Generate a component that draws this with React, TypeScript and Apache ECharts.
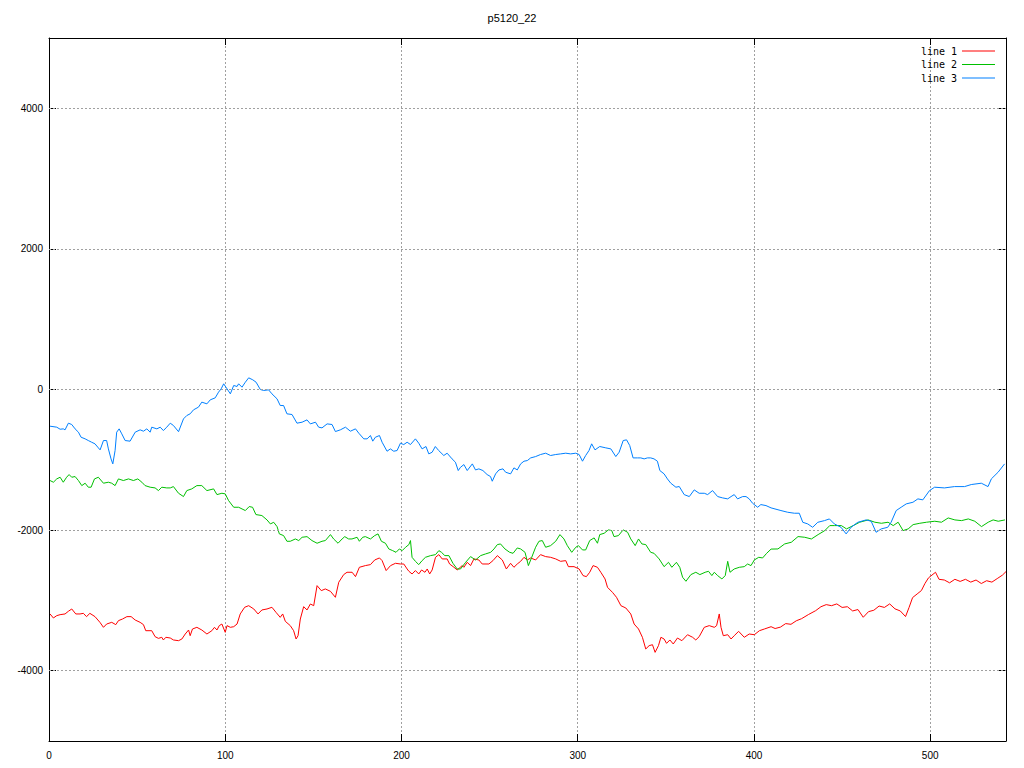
import React, { useEffect, useRef } from "react";
import * as echarts from "echarts";

const chartTitle = "p5120_22";
const seriesNames = ["line 1", "line 2", "line 3"];
const seriesColors = ["#ff0000", "#00c000", "#0080ff"];
const yTickValues = [-4000, -2000, 0, 2000, 4000];
const xMin = 0;
const xMax = 543;
const xStep = 100;
const yMin = -5000;
const yMax = 5000;

// line 1 (red)
const line1: [number, number][] = [
  [0.6, -3193], [2.5, -3250], [4.4, -3217], [6.3, -3203], [9.1, -3193], [11, -3155], [12.9, -3122],
  [15.2, -3193], [17.6, -3193], [19.5, -3184], [21.3, -3231], [23.2, -3184], [26.1, -3231], [28.9, -3312],
  [30.9, -3383], [32.7, -3336], [35.6, -3312], [37.9, -3345], [39.4, -3288], [41.7, -3265], [44.2, -3231],
  [46.6, -3231], [48.9, -3279], [51.7, -3312], [53.6, -3345], [54.9, -3431], [58.3, -3431], [60.2, -3516],
  [62.1, -3540], [64, -3525], [64.9, -3563], [66.3, -3525], [68.8, -3535], [70.6, -3563], [73.5, -3573],
  [75.4, -3549], [77.3, -3478], [79.2, -3421], [80.1, -3502], [81.4, -3407], [83.9, -3383], [86.7, -3421],
  [89.6, -3478], [92.4, -3431], [93.9, -3383], [95.3, -3421], [96.6, -3359], [98.1, -3336], [100, -3454],
  [101, -3359], [102.9, -3383], [104.8, -3374], [106.7, -3336], [108.5, -3193], [111, -3098], [113.3, -3075],
  [116.2, -3122], [118.6, -3193], [120.8, -3136], [123.7, -3122], [126.5, -3098], [128.8, -3170],
  [131.2, -3241], [132.6, -3193], [134.1, -3298], [136.9, -3359], [138.8, -3431], [140.2, -3549],
  [141.3, -3502], [142.6, -3265], [144.5, -3089], [146.4, -3136], [148.3, -3051], [150.2, -3075],
  [152.1, -2790], [154.5, -2861], [156.8, -2837], [159.7, -2871], [162.5, -2956], [164.4, -2742],
  [167.2, -2633], [169.1, -2600], [172, -2600], [173.9, -2662], [176.1, -2529], [179.5, -2505],
  [182.4, -2491], [184.8, -2425], [187.5, -2396], [189, -2434], [191.3, -2576], [193.8, -2505],
  [196.6, -2472], [199.4, -2482], [201.3, -2482], [203.2, -2553], [204.2, -2586], [206, -2624],
  [207.9, -2576], [209.8, -2624], [211.4, -2567], [213.3, -2600], [214.6, -2553], [216, -2624],
  [217.4, -2567], [219.3, -2387], [221.2, -2349], [223.1, -2410], [225.9, -2410], [227.3, -2482],
  [229.8, -2529], [231.6, -2567], [234.5, -2505], [235.4, -2529], [237.3, -2458], [239.2, -2505],
  [241.1, -2410], [243.9, -2425], [245.8, -2482], [249.6, -2482], [251.9, -2434], [254.4, -2363],
  [257.2, -2425], [259.5, -2553], [261.9, -2472], [263.8, -2529], [265.7, -2482], [267.6, -2444],
  [269.5, -2387], [271.4, -2425], [273.3, -2396], [276.1, -2425], [278.9, -2349], [281.8, -2377],
  [284.6, -2387], [287.5, -2410], [290.3, -2444], [293.2, -2434], [294.7, -2520], [297.9, -2520],
  [300.8, -2553], [303, -2647], [304.9, -2662], [306.8, -2600], [308.7, -2505], [311.2, -2529],
  [313.1, -2600], [315.5, -2695], [316.9, -2814], [319.7, -2885], [322, -2956], [324.5, -3075],
  [327.3, -3108], [330.1, -3193], [332, -3336], [334.5, -3407], [336.7, -3525], [338.6, -3691],
  [340.5, -3644], [342.4, -3630], [343.9, -3739], [345.8, -3644], [347.2, -3525], [349, -3549],
  [350.4, -3611], [352.3, -3563], [354.2, -3620], [356.6, -3535], [359.1, -3573], [362.3, -3488],
  [365.2, -3525], [367, -3563], [368.9, -3516], [371.8, -3383], [374.6, -3359], [377.5, -3383],
  [378.8, -3359], [380.3, -3193], [381.3, -3383], [382.6, -3502], [385.1, -3488], [387, -3549],
  [388.8, -3502], [391.3, -3440], [394.5, -3525], [397.3, -3478], [400.2, -3488], [403.1, -3431],
  [405.9, -3407], [409.7, -3374], [412, -3400], [415, -3380], [418, -3330], [421, -3340], [424, -3290],
  [427, -3260], [431, -3200], [435, -3146], [438, -3090], [441, -3060], [444, -3075], [447, -3050],
  [450, -3100], [453, -3090], [456, -3150], [459, -3130], [462, -3240], [465, -3160], [468, -3140],
  [471, -3080], [474, -3100], [477, -3050], [480, -3120], [483, -3150], [486, -3230], [488, -3100],
  [490, -2960], [493, -2900], [495, -2860], [497, -2760], [499, -2680], [501, -2640], [503, -2600],
  [505, -2700], [508, -2710], [511, -2750], [514, -2700], [517, -2730], [520, -2700], [523, -2740],
  [526, -2710], [529, -2760], [532, -2720], [535, -2740], [538, -2690], [541, -2640], [543, -2590],
];

// line 2 (green)
const line2: [number, number][] = [
  [0.6, -1295], [2.5, -1319], [4.4, -1272], [6.3, -1248], [8.1, -1319], [10, -1248], [11.4, -1210],
  [12.9, -1248], [14.8, -1238], [16.7, -1295], [18.6, -1367], [20.5, -1333], [22.3, -1390], [23.9, -1390],
  [25.8, -1272], [28, -1248], [30.9, -1333], [33.7, -1319], [35.6, -1333], [37.5, -1367], [39.4, -1272],
  [42.2, -1295], [45.1, -1272], [47.9, -1295], [50.4, -1272], [52.7, -1319], [54.5, -1367], [57.4, -1390],
  [60.2, -1400], [62.1, -1438], [64, -1390], [66.8, -1400], [68.8, -1400], [70.6, -1381], [73.5, -1476],
  [76.3, -1523], [78.2, -1438], [81, -1414], [83.9, -1367], [86.7, -1367], [89.6, -1438], [93.4, -1414],
  [95.3, -1495], [98.1, -1476], [100, -1485], [101.9, -1580], [104.8, -1675], [107.6, -1675],
  [111.4, -1722], [113.6, -1665], [115.5, -1675], [117.4, -1779], [120.8, -1793], [123.7, -1855],
  [125.6, -1912], [127.5, -1889], [129.4, -1950], [130.7, -2054], [133.1, -2078], [135, -2159],
  [136.9, -2159], [139.8, -2126], [141.7, -2149], [143.6, -2102], [146.4, -2093], [149.2, -2149],
  [152.1, -2187], [154.9, -2159], [156.8, -2149], [159.7, -2064], [161.5, -2126], [164, -2187],
  [166.3, -2126], [167.8, -2093], [170, -2126], [171.9, -2126], [174.8, -2102], [176.1, -2159],
  [178, -2102], [179.5, -2093], [182.4, -2126], [184.8, -2078], [186.7, -2054], [188.6, -2159],
  [190.9, -2187], [192.8, -2268], [195, -2292], [196.9, -2316], [198.8, -2268], [200.4, -2292],
  [202.3, -2244], [204.2, -2206], [205.1, -2149], [206, -2387], [207.9, -2444], [209.8, -2491],
  [211.7, -2434], [213.6, -2387], [216.5, -2363], [219.3, -2349], [221.2, -2292], [222.7, -2316],
  [224.6, -2363], [226.9, -2363], [229.2, -2472], [231.6, -2553], [233.5, -2553], [236.4, -2458],
  [239.2, -2377], [242, -2425], [244.9, -2363], [247.7, -2339], [250.6, -2316], [252.5, -2268],
  [254.4, -2206], [256.2, -2197], [258.7, -2268], [261.4, -2316], [263.3, -2330], [265.7, -2254],
  [267.6, -2268], [270.1, -2316], [272, -2505], [273.9, -2387], [276.1, -2244], [278, -2159],
  [279.9, -2149], [281.8, -2244], [284.6, -2221], [287.5, -2159], [289.9, -2064], [292.2, -2126],
  [294.1, -2221], [296.6, -2316], [298.9, -2244], [300.4, -2221], [302.7, -2282], [304.5, -2282],
  [306.8, -2149], [309.3, -2111], [311.2, -2187], [312.5, -2064], [315, -2045], [317.4, -1997],
  [319.3, -2007], [320.6, -2093], [323.1, -2078], [325.8, -1997], [328.3, -2031], [330.1, -2126],
  [332.6, -2221], [334.5, -2126], [336.4, -2197], [338.6, -2206], [341.4, -2316], [343.3, -2330],
  [346.2, -2410], [349, -2520], [351.5, -2458], [353.4, -2529], [356, -2458], [357.9, -2529],
  [359.5, -2671], [361.4, -2728], [364.2, -2633], [367, -2600], [369.3, -2633], [372.3, -2600],
  [374.2, -2586], [376.1, -2647], [377.5, -2600], [379.4, -2647], [381.8, -2695], [383.7, -2647],
  [385.1, -2444], [386.4, -2600], [388.8, -2553], [391.7, -2529], [394.5, -2520], [396.4, -2482],
  [398.3, -2505], [400.2, -2425], [402.7, -2387], [404.9, -2396], [407.2, -2330], [409.7, -2270],
  [413.6, -2268], [417.4, -2197], [421.2, -2173], [425, -2092], [428.8, -2102], [432.6, -2126],
  [436.4, -2064], [440.2, -2007], [443, -1936], [445.8, -1936], [449.6, -1936], [452.5, -1983],
  [456.3, -1936], [460, -1888], [464.8, -1855], [468.6, -1888], [472.3, -1903], [476.1, -1888],
  [479, -1936], [481.8, -1888], [484.6, -2007], [487.5, -1983], [490.3, -1922], [494.1, -1903],
  [497.9, -1888], [502.6, -1874], [506.4, -1888], [510.2, -1827], [514, -1855], [517.8, -1865],
  [521.6, -1841], [525.3, -1874], [529.1, -1950], [532.9, -1888], [535.7, -1855], [538.6, -1874],
  [542.4, -1855],
];

// line 3 (blue)
const line3: [number, number][] = [
  [0.6, -522], [4.4, -536], [6.3, -565], [8.1, -560], [9.1, -574], [11, -479], [12.9, -498], [14.8, -560],
  [16.7, -607], [18.2, -679], [20.5, -702], [22.3, -726], [24.2, -750], [26.1, -773], [28, -830],
  [29, -859], [30.9, -726], [32.7, -726], [33.7, -845], [35.2, -987], [36.2, -1058], [37.5, -868],
  [38.4, -607], [39.8, -560], [41.3, -631], [43.2, -726], [46, -735], [48.9, -607], [51.7, -574],
  [53.6, -593], [55.5, -560], [57.4, -607], [58.3, -536], [61.2, -560], [63.1, -536], [64.9, -584],
  [66.8, -536], [68.8, -479], [70.6, -512], [73.5, -600], [76.3, -418], [78.2, -370], [80.1, -346],
  [82, -289], [84.8, -251], [86.7, -180], [89.6, -204], [91.5, -147], [94.3, -119], [96.2, -38],
  [97.7, 10], [99.1, 81], [101, 10], [102.9, -62], [104.8, 57], [106.7, 43], [107.6, 81], [109.5, 33],
  [111.4, 104], [113.3, 166], [115.6, 138], [117.5, 104], [119.9, 0], [121.8, -14], [124.6, -5],
  [126.5, -62], [129.4, -133], [131.2, -228], [133.1, -228], [135, -346], [137.9, -356], [140.7, -479],
  [143.6, -465], [146.4, -432], [148.3, -489], [151.2, -465], [153, -536], [154.9, -546], [157.8, -489],
  [160.6, -498], [162.5, -598], [165.3, -574], [168.2, -536], [171, -593], [173.9, -560], [175.8, -622],
  [178.6, -702], [180.5, -702], [182.4, -655], [183.7, -735], [185.2, -679], [187.5, -655], [189, -750],
  [191.8, -878], [193.7, -845], [195.6, -878], [197.5, -868], [199.4, -764], [201.3, -783], [203.2, -750],
  [205.1, -783], [207.9, -702], [209.8, -764], [211.7, -845], [213.9, -811], [215.5, -916], [217.4, -892],
  [219.2, -811], [221.1, -868], [224, -939], [225.9, -906], [228.7, -987], [230.6, -1034], [232.2, -1153],
  [233.5, -1106], [235.4, -1068], [237.3, -1153], [240.2, -1058], [242, -1144], [243.9, -1129],
  [246.2, -1153], [248.6, -1210], [250.5, -1238], [251.5, -1305], [253.4, -1200], [255.3, -1144],
  [257.6, -1129], [259.1, -1177], [261.9, -1200], [263.8, -1115], [265.7, -1144], [267.6, -1058],
  [269.5, -1020], [271.4, -1011], [273.3, -973], [276.1, -954], [278.9, -925], [281.8, -906],
  [284.6, -939], [287.5, -925], [290.3, -916], [293.2, -906], [296, -916], [298.9, -906], [300.8, -925],
  [302.7, -1020], [304.5, -939], [306.4, -868], [307.9, -773], [309.8, -859], [312.5, -811],
  [315.9, -830], [318.8, -845], [321.6, -954], [323.5, -892], [325.8, -726], [327.7, -716],
  [329.5, -797], [331.4, -973], [333.9, -973], [335.8, -973], [337.7, -987], [339.5, -973],
  [341.4, -973], [343.3, -987], [345.2, -1020], [346.6, -1153], [349, -1200], [350.9, -1272],
  [352.8, -1333], [355.7, -1390], [357.6, -1380], [360.4, -1495], [363.3, -1523], [366.1, -1428],
  [368.9, -1476], [371.8, -1476], [373.7, -1495], [376.5, -1438], [379.4, -1523], [382.2, -1542],
  [385.1, -1556], [387, -1523], [388.8, -1495], [390.7, -1556], [393.6, -1523], [395.5, -1523],
  [397.3, -1556], [399.2, -1618], [402.1, -1675], [403.9, -1637], [406.8, -1651], [409.7, -1684],
  [415.3, -1722], [419.1, -1746], [422.9, -1760], [425.7, -1760], [427.7, -1889], [430.5, -1912],
  [433.3, -1960], [436.2, -1889], [440, -1865], [442.8, -1841], [445.6, -1912], [449.4, -1960],
  [452.3, -2054], [455.1, -1960], [458.9, -1889], [463.6, -1855], [466.5, -1874], [469.3, -2031],
  [472.2, -1983], [475.9, -1960], [477.8, -1889], [480.7, -1722], [483.5, -1675], [486.4, -1627],
  [490.2, -1604], [493, -1556], [495.8, -1570], [499.6, -1438], [502.5, -1390], [508.1, -1400],
  [513.8, -1381], [519.5, -1381], [523.3, -1352], [529, -1333], [532.8, -1381], [534.7, -1271],
  [538.5, -1177], [542.2, -1058],
];

const seriesData = [line1, line2, line3];

const labelFont = "'Liberation Sans', Arial, sans-serif";
const legendFont = "'DejaVu Sans Mono', monospace";

export default function App() {
  const ref = useRef<HTMLDivElement>(null);

  useEffect(() => {
    if (!ref.current) return;
    const chart = echarts.init(ref.current, null, { renderer: "svg" });
    const gridLineStyle = { color: "#a0a0a0", width: 1, type: [2, 2] as number[] };
    const axisLineStyle = { color: "#000", width: 1 };

    const axisBase = {
      type: "value" as const,
      axisLine: { show: true, onZero: false, lineStyle: axisLineStyle },
      axisTick: { show: true, inside: true, length: 7, lineStyle: axisLineStyle },
    };

    chart.setOption({
      animation: false,
      backgroundColor: "#ffffff",
      title: {
        text: chartTitle,
        left: "center",
        top: 7,
        textStyle: { fontFamily: labelFont, fontSize: 11, fontWeight: "normal", color: "#000" },
      },
      legend: {
        data: seriesNames,
        orient: "vertical",
        right: 29,
        top: 46,
        padding: 0,
        align: "right",
        itemWidth: 33,
        itemHeight: 10,
        itemGap: 3.5,
        icon: "path://M0,0 L33,0 L33,1 L0,1 Z",
        selectedMode: false,
        textStyle: { fontFamily: legendFont, fontSize: 10, color: "#000" },
      },
      grid: { left: 49, right: 18, top: 38, bottom: 27, containLabel: false },
      xAxis: [
        {
          ...axisBase,
          position: "bottom",
          min: xMin,
          max: xMax,
          interval: xStep,
          axisLabel: {
            color: "#000",
            fontFamily: labelFont,
            fontSize: 10,
            margin: 9,
            showMaxLabel: false,
            formatter: (v: number) => String(v),
          },
          splitLine: { show: true, lineStyle: gridLineStyle },
        },
        {
          ...axisBase,
          position: "top",
          min: xMin,
          max: xMax,
          interval: xStep,
          axisLabel: { show: false },
          splitLine: { show: false },
        },
      ],
      yAxis: [
        {
          ...axisBase,
          position: "left",
          min: yMin,
          max: yMax,
          interval: 1000,
          axisTick: { show: true, inside: true, length: 7, lineStyle: axisLineStyle, customValues: yTickValues },
          axisLabel: {
            color: "#000",
            fontFamily: labelFont,
            fontSize: 10,
            margin: 6,
            customValues: yTickValues,
            formatter: (v: number) => String(v),
          },
          splitLine: { show: false },
        },
        {
          ...axisBase,
          position: "right",
          min: yMin,
          max: yMax,
          interval: 1000,
          axisTick: { show: true, inside: true, length: 7, lineStyle: axisLineStyle, customValues: yTickValues },
          axisLabel: { show: false },
          splitLine: { show: false },
        },
      ],
      series: [
        {
          name: "grid",
          type: "line",
          data: [],
          symbol: "none",
          silent: true,
          z: 1,
          markLine: {
            silent: true,
            symbol: ["none", "none"],
            label: { show: false },
            lineStyle: gridLineStyle,
            emphasis: { disabled: true },
            data: yTickValues.map((v) => ({ yAxis: v })),
          },
        },
        ...seriesData.map((d, i) => ({
          name: seriesNames[i],
          type: "line",
          data: d,
          symbol: "none",
          showSymbol: false,
          lineStyle: { color: seriesColors[i], width: 1 },
          itemStyle: { color: seriesColors[i] },
          emphasis: { disabled: true },
          z: 2,
        })),
      ],
    });
    return () => chart.dispose();
  }, []);

  return (
    <div
      ref={ref}
      style={{ position: "fixed", left: 0, top: 0, width: 1024, height: 768, background: "#fff" }}
    />
  );
}
